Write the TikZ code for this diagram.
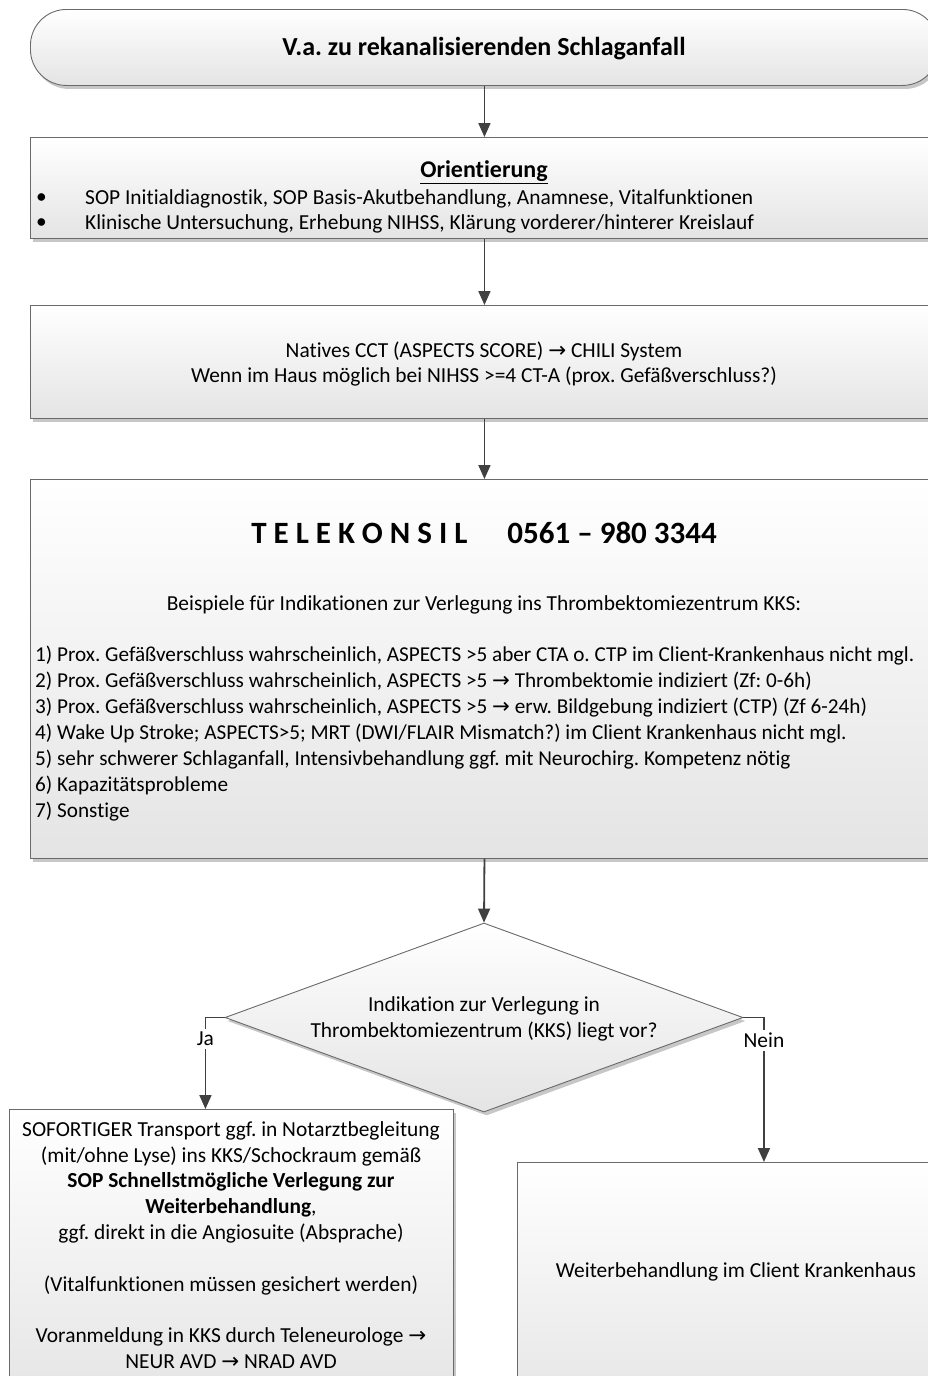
\documentclass[tikz,border=0pt]{standalone}
\usepackage{fontspec}
\setmainfont{Carlito}[Ligatures=NoCommon]
\newfontfamily\symfont{DejaVu Sans}
\usetikzlibrary{shapes.geometric,shadows,arrows.meta}
\definecolor{edgegray}{HTML}{6A6A6A}
\definecolor{linkgray}{HTML}{404040}
\definecolor{shadegray}{HTML}{E4E4E4}
\newcommand{\rarr}{{\symfont →}}
\frenchspacing
\begin{document}
\begin{tikzpicture}[x=1pt,y=-1pt,
  box/.style={draw=edgegray, line width=0.9pt, top color=white, bottom color=shadegray,
    drop shadow={shadow xshift=2.5pt, shadow yshift=-3.5pt, fill=black, opacity=0.22},
    inner sep=0pt, anchor=north west},
  dia/.style={diamond, draw=edgegray, line width=0.9pt, top color=white, bottom color=shadegray,
    drop shadow={shadow xshift=2.5pt, shadow yshift=-3.5pt, fill=black, opacity=0.22},
    inner sep=0pt, aspect=2.74, minimum width=518pt, minimum height=189pt},
  txt/.style={font=\fontsize{21.4}{25.8}\selectfont, inner sep=0pt, text=black},
  arr/.style={draw=linkgray, line width=1.8pt, -{Triangle[length=14pt,width=12pt]}},
  lab/.style={txt, fill=white, inner xsep=1pt, inner ysep=3pt}]
\useasboundingbox (0,0) rectangle (928,1376);
\clip (0,0) rectangle (928,1376);
\fill[white] (0,0) rectangle (928,1376);

% start terminator
\node[box, rounded corners=36pt, minimum width=908pt, minimum height=76pt] (term) at (30,9) {};
\node[txt] (termtxt) at (484,49) {\fontsize{26}{30}\selectfont\bfseries V.a. zu rekanalisierenden Schlaganfall};

% orientation step
\node[box, minimum width=908pt, minimum height=101pt] (orient) at (30,137) {};
\node[txt] (orienttitle) at (484,172) {\fontsize{24}{28}\selectfont\bfseries\underline{Orientierung}};
\node[txt, anchor=west] (bul1) at (36,199) {\textbullet};
\node[txt, anchor=west] (bul2) at (36,224) {\textbullet};
\node[txt, anchor=west] (ori1) at (85,199) {SOP Initialdiagnostik, SOP Basis-Akutbehandlung, Anamnese, Vitalfunktionen};
\node[txt, anchor=west] (ori2) at (85,224) {Klinische Untersuchung, Erhebung NIHSS, Klärung vorderer/hinterer Kreislauf};

% imaging step
\node[box, minimum width=908pt, minimum height=113pt] (cct) at (30,305) {};
\node[txt, align=center] (ccttxt) at (484,364) {Natives CCT (ASPECTS SCORE) \rarr{} CHILI System\\Wenn im Haus möglich bei NIHSS >=4 CT-A (prox. Gefäßverschluss?)};

% teleconsultation step
\node[box, minimum width=908pt, minimum height=379pt] (tele) at (30,479) {};
\node[txt] (teletitle) at (484,533) {\fontsize{31}{36}\selectfont\bfseries T E L E K O N S I L\hspace{40pt}0561 – 980 3344};
\node[txt] (telesub) at (484,605) {Beispiele für Indikationen zur Verlegung ins Thrombektomiezentrum KKS:};
\node[txt, align=left, anchor=west, font=\fontsize{21.2}{26.1}\selectfont] (telelist) at (35,733.5) {%
1) Prox. Gefäßverschluss wahrscheinlich, ASPECTS >5 aber CTA o. CTP im Client-Krankenhaus nicht mgl.\\
2) Prox. Gefäßverschluss wahrscheinlich, ASPECTS >5 \rarr{} Thrombektomie indiziert (Zf: 0-6h)\\
3) Prox. Gefäßverschluss wahrscheinlich, ASPECTS >5 \rarr{} erw. Bildgebung indiziert (CTP) (Zf 6-24h)\\
4) Wake Up Stroke; ASPECTS>5; MRT (DWI/FLAIR Mismatch?) im Client Krankenhaus nicht mgl.\\
5) sehr schwerer Schlaganfall, Intensivbehandlung ggf. mit Neurochirg. Kompetenz nötig\\
6) Kapazitätsprobleme\\
7) Sonstige};

% decision
\node[dia] (dec) at (484,1017.5) {};
\node[txt, align=center] (dectxt) at (484,1019) {Indikation zur Verlegung in\\Thrombektomiezentrum (KKS) liegt vor?};

% outcomes
\node[box, minimum width=444pt, minimum height=300pt] (lbox) at (9,1109) {};
\node[txt, align=center] (ltxt) at (231,1245) {SOFORTIGER Transport ggf. in Notarztbegleitung\\
(mit/ohne Lyse) ins KKS/Schockraum gemäß\\
\textbf{SOP Schnellstmögliche Verlegung zur}\\
\textbf{Weiterbehandlung},\\
ggf. direkt in die Angiosuite (Absprache)\\
~\\
(Vitalfunktionen müssen gesichert werden)\\
~\\
Voranmeldung in KKS durch Teleneurologe \rarr\\
NEUR AVD \rarr{} NRAD AVD};
\node[box, minimum width=439pt, minimum height=260pt] (rbox) at (517,1162) {};
\node[txt] (rtxt) at (736,1272) {Weiterbehandlung im Client Krankenhaus};

% connectors
\draw[arr] (term.south) -- (orient.north);
\draw[arr] (orient.south) -- (cct.north);
\draw[arr] (cct.south) -- (tele.north);
\draw[arr] (tele.south) -- (dec.north);
\draw[arr] (dec.west) -| node[lab, pos=0.615] (ja) {Ja} ([xshift=-26pt]lbox.north);
\draw[arr] (dec.east) -| node[lab, pos=0.58] (nein) {Nein} ([xshift=27pt]rbox.north);
\end{tikzpicture}
\end{document}
